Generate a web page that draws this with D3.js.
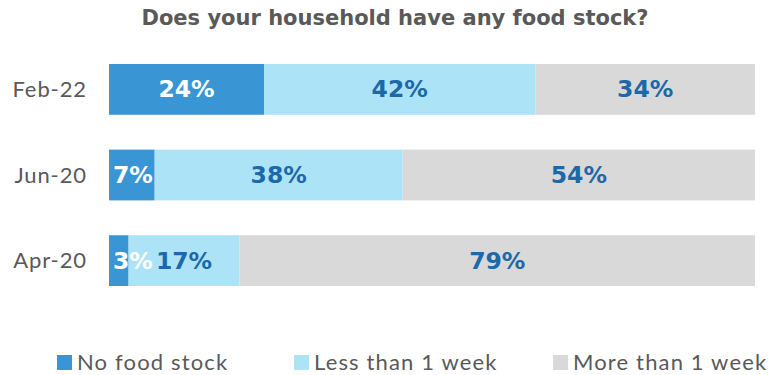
<!DOCTYPE html>
<html><head><meta charset="utf-8">
<script src="https://cdn.jsdelivr.net/npm/d3@7"></script>
<style>body{margin:0;background:#fff}svg{display:block}</style>
</head><body>
<svg id="c" width="772" height="375"></svg>
<script>
const title = "Does your household have any food stock?";
const categories = ["Feb-22", "Jun-20", "Apr-20"];
const seriesNames = ["No food stock", "Less than 1 week", "More than 1 week"];
const noStock = [24, 7, 3];
const lessWeek = [42, 38, 17];
const moreWeek = [34, 54, 79];
const colors = ["#3a95d5", "#ade3f6", "#d9d9d9"];
const labelColors = ["#ffffff", "#1d68a9", "#1d68a9"];

const rows = categories.map((c, i) => ({cat: c, vals: [noStock[i], lessWeek[i], moreWeek[i]]}));
const svg = d3.select("#c");
const boldFont = "'DejaVu Sans', sans-serif";
const lightFont = "Lato, 'Open Sans', sans-serif";

const x = d3.scaleLinear().domain([0, 1]).range([109, 755]);
const y = d3.scaleBand().domain(categories).range([64, 286]).paddingInner(0.407).paddingOuter(0);

svg.append("text").attr("x", 395).attr("y", 25).attr("text-anchor", "middle")
  .attr("font-family", boldFont).attr("font-weight", 700).attr("font-size", 21)
  .attr("fill", "#595959").text(title);

const segs = [];
rows.forEach(r => {
  const tot = d3.sum(r.vals);
  let acc = 0;
  r.vals.forEach((v, k) => {
    const x0 = x(acc / tot), x1 = x((acc + v) / tot);
    acc += v;
    segs.push({cat: r.cat, v, k, x0, x1});
    svg.append("rect").attr("x", x0).attr("y", y(r.cat)).attr("width", x1 - x0)
      .attr("height", y.bandwidth()).attr("fill", colors[k]);
  });
  svg.append("text").attr("x", 87).attr("y", y(r.cat) + y.bandwidth() / 2 + 7.5)
    .attr("text-anchor", "end").attr("font-family", lightFont).attr("font-size", 22)
    .attr("letter-spacing", 0.9).attr("fill", "#595959").text(r.cat);
});

segs.forEach(s => {
  const t = svg.append("text").attr("y", y(s.cat) + y.bandwidth() / 2 + 8)
    .attr("font-family", boldFont).attr("font-weight", 700).attr("font-size", 23.5)
    .attr("fill", labelColors[s.k]).text(s.v + "%");
  const w = t.node().getComputedTextLength();
  if (w + 6 > s.x1 - s.x0) t.attr("x", s.x0 + 4).attr("text-anchor", "start");
  else t.attr("x", (s.x0 + s.x1) / 2).attr("text-anchor", "middle");
});

const legX = [57, 294, 553];
seriesNames.forEach((n, k) => {
  svg.append("rect").attr("x", legX[k]).attr("y", 355).attr("width", 15).attr("height", 15).attr("fill", colors[k]);
  svg.append("text").attr("x", legX[k] + 20).attr("y", 369.5).attr("font-family", lightFont)
    .attr("font-size", 22).attr("letter-spacing", 1.15).attr("fill", "#595959").text(n);
});
</script>
</body></html>
